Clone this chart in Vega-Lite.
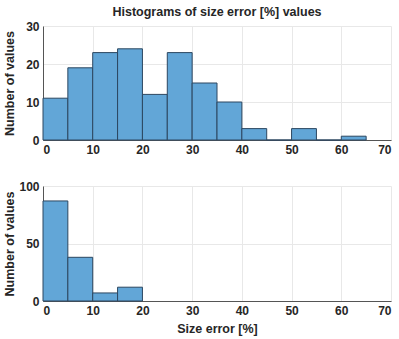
{
  "$schema": "https://vega.github.io/schema/vega-lite/v6.json",
  "padding": {"left": 3, "top": 5, "right": 3, "bottom": 2},
  "data": {"values": [
    {"panel": "top", "start": 0, "end": 5, "count": 11},
    {"panel": "top", "start": 5, "end": 10, "count": 19},
    {"panel": "top", "start": 10, "end": 15, "count": 23},
    {"panel": "top", "start": 15, "end": 20, "count": 24},
    {"panel": "top", "start": 20, "end": 25, "count": 12},
    {"panel": "top", "start": 25, "end": 30, "count": 23},
    {"panel": "top", "start": 30, "end": 35, "count": 15},
    {"panel": "top", "start": 35, "end": 40, "count": 10},
    {"panel": "top", "start": 40, "end": 45, "count": 3},
    {"panel": "top", "start": 45, "end": 50, "count": 0},
    {"panel": "top", "start": 50, "end": 55, "count": 3},
    {"panel": "top", "start": 55, "end": 60, "count": 0},
    {"panel": "top", "start": 60, "end": 65, "count": 1},
    {"panel": "bottom", "start": 0, "end": 5, "count": 87},
    {"panel": "bottom", "start": 5, "end": 10, "count": 38},
    {"panel": "bottom", "start": 10, "end": 15, "count": 7},
    {"panel": "bottom", "start": 15, "end": 20, "count": 12}
  ]},
  "spacing": 25,
  "config": {
    "font": "Liberation Sans",
    "view": {"stroke": null},
    "axis": {
      "labelFont": "Liberation Sans",
      "labelFontWeight": "bold",
      "labelFontSize": 12,
      "labelColor": "#262626",
      "titleFont": "Liberation Sans",
      "titleFontSize": 12.5,
      "titleFontWeight": "bold",
      "titleColor": "#262626",
      "domainColor": "#555555",
      "gridColor": "#e8e8e8",
      "ticks": false,
      "labelPadding": 4
    },
    "title": {"font": "Liberation Sans", "fontSize": 12.5, "fontWeight": "bold", "color": "#262626", "offset": 2}
  },
  "vconcat": [
    {
      "title": "Histograms of size error [%] values",
      "width": 348,
      "height": 114,
      "transform": [{"filter": "datum.panel === 'top'"}],
      "mark": {"type": "rect", "fill": "#62a6d7", "stroke": "#2c4760", "strokeWidth": 1},
      "encoding": {
        "x": {"field": "start", "type": "quantitative", "scale": {"domain": [0, 70], "nice": false}, "axis": {"values": [0, 10, 20, 30, 40, 50, 60, 70], "title": null}},
        "x2": {"field": "end"},
        "y": {"field": "count", "type": "quantitative", "scale": {"domain": [0, 30], "nice": false}, "axis": {"values": [0, 10, 20, 30], "title": "Number of values", "titlePadding": 9}}
      }
    },
    {
      "width": 348,
      "height": 115,
      "transform": [{"filter": "datum.panel === 'bottom'"}],
      "mark": {"type": "rect", "fill": "#62a6d7", "stroke": "#2c4760", "strokeWidth": 1},
      "encoding": {
        "x": {"field": "start", "type": "quantitative", "scale": {"domain": [0, 70], "nice": false}, "axis": {"values": [0, 10, 20, 30, 40, 50, 60, 70], "title": "Size error [%]", "titlePadding": 6}},
        "x2": {"field": "end"},
        "y": {"field": "count", "type": "quantitative", "scale": {"domain": [0, 100], "nice": false}, "axis": {"values": [0, 50, 100], "title": "Number of values", "titlePadding": 2}}
      }
    }
  ]
}
